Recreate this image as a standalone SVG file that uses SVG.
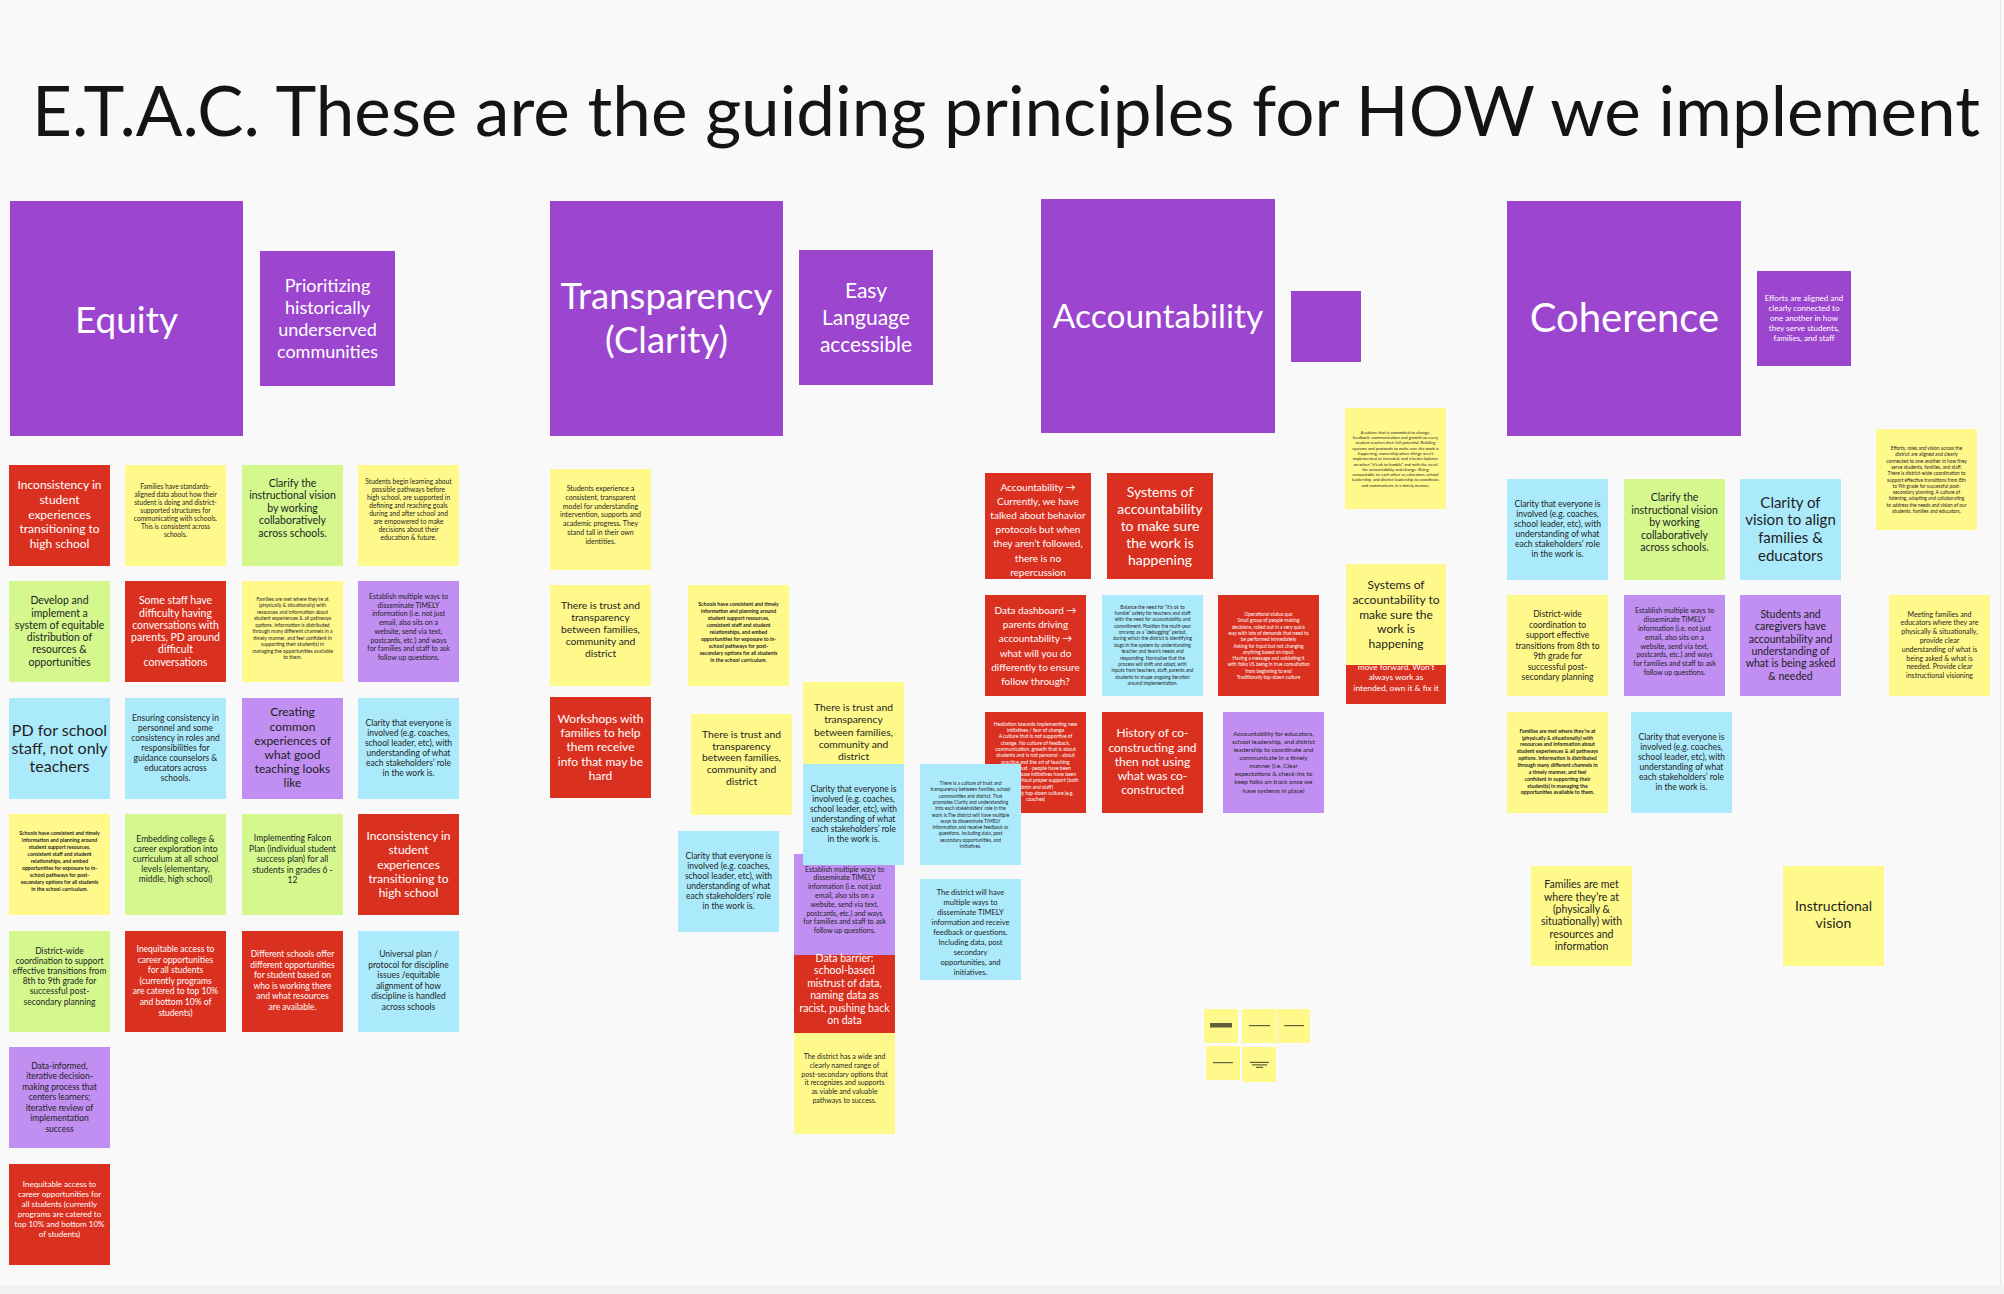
<svg xmlns="http://www.w3.org/2000/svg" width="2004" height="1294" viewBox="0 0 2004 1294">
<style>
.r{fill:#DA3020}.y{fill:#FFF98B}.g{fill:#D4F78E}.b{fill:#ABEAFB}.p{fill:#C18EF1}.h{fill:#9C45CF}
text{font-family:Lato,'Liberation Sans',sans-serif;text-anchor:middle;fill:#1E1E1E}
text.w{fill:#FFFFFF}
.s42{font-size:4.2px}.s48{font-size:4.8px}.s5{font-size:5px}.s52{font-size:5.2px}.s64{font-size:6.4px}.s66{font-size:6.6px}.s7{font-size:7px}.s75{font-size:7.5px}.s8{font-size:8px}.s83{font-size:8.3px}.s85{font-size:8.5px}.s10{font-size:10px}.s103{font-size:10.3px}.s105{font-size:10.5px}.s12{font-size:12px}.s14{font-size:14px}.s15{font-size:15px}.s16{font-size:16px}
.blur{fill:#3a3a2a;opacity:0.8}
</style>
<rect x="0" y="0" width="2004" height="1294" fill="#F9F9F9"/>
<rect x="0" y="1285" width="2004" height="9" fill="#F1F1F1"/>
<line x1="2000.5" y1="0" x2="2000.5" y2="1285" stroke="#E6E6E6" stroke-width="1"/>
<g id="title"><text x="1006" y="136" style="font-size:69.2px;fill:#141414">E.T.A.C. These are the guiding principles for HOW we implement</text></g>

<!-- EQUITY -->
<g id="equity-header"><rect class="h" x="10" y="201" width="233" height="235"/><text class="w" x="126.5" y="333" style="font-size:37px">Equity</text></g>
<g id="equity-sub"><rect class="h" x="260" y="251" width="135" height="135"/><text class="w" x="327.5" y="291.5" style="font-size:18px"><tspan x="327.5">Prioritizing</tspan><tspan x="327.5" dy="22.3">historically</tspan><tspan x="327.5" dy="22.3">underserved</tspan><tspan x="327.5" dy="22.3">communities</tspan></text></g>

<g id="eq-r1c1"><rect class="r" x="9" y="465" width="101" height="101"/><text class="w s12" x="59.5" y="489"><tspan x="59.5">Inconsistency in</tspan><tspan x="59.5" dy="14.8">student</tspan><tspan x="59.5" dy="14.8">experiences</tspan><tspan x="59.5" dy="14.8">transitioning to</tspan><tspan x="59.5" dy="14.8">high school</tspan></text></g>
<g id="eq-r1c2"><rect class="y" x="125" y="465" width="101" height="101"/><text class="s66" x="175.5" y="489"><tspan x="175.5">Families have standards-</tspan><tspan x="175.5" dy="8">aligned data about how their</tspan><tspan x="175.5" dy="8">student is doing and district-</tspan><tspan x="175.5" dy="8">supported structures for</tspan><tspan x="175.5" dy="8">communicating with schools.</tspan><tspan x="175.5" dy="8">This is consistent across</tspan><tspan x="175.5" dy="8">schools.</tspan></text></g>
<g id="eq-r1c3"><rect class="g" x="242" y="465" width="101" height="101"/><text class="s105" x="292.5" y="486.8"><tspan x="292.5">Clarify the</tspan><tspan x="292.5" dy="12.5">instructional vision</tspan><tspan x="292.5" dy="12.5">by working</tspan><tspan x="292.5" dy="12.5">collaboratively</tspan><tspan x="292.5" dy="12.5">across schools.</tspan></text></g>
<g id="eq-r1c4"><rect class="y" x="358" y="465" width="101" height="101"/><text class="s66" x="408.5" y="484"><tspan x="408.5">Students begin learning about</tspan><tspan x="408.5" dy="8">possible pathways before</tspan><tspan x="408.5" dy="8">high school, are supported in</tspan><tspan x="408.5" dy="8">defining and reaching goals</tspan><tspan x="408.5" dy="8">during and after school and</tspan><tspan x="408.5" dy="8">are empowered to make</tspan><tspan x="408.5" dy="8">decisions about their</tspan><tspan x="408.5" dy="8">education &amp; future.</tspan></text></g>

<g id="eq-r2c1"><rect class="g" x="9" y="581" width="101" height="101"/><text class="s105" x="59.5" y="604.2"><tspan x="59.5">Develop and</tspan><tspan x="59.5" dy="12.3">implement a</tspan><tspan x="59.5" dy="12.3">system of equitable</tspan><tspan x="59.5" dy="12.3">distribution of</tspan><tspan x="59.5" dy="12.3">resources &amp;</tspan><tspan x="59.5" dy="12.3">opportunities</tspan></text></g>
<g id="eq-r2c2"><rect class="r" x="125" y="581" width="101" height="101"/><text class="w s105" x="175.5" y="604.2"><tspan x="175.5">Some staff have</tspan><tspan x="175.5" dy="12.3">difficulty having</tspan><tspan x="175.5" dy="12.3">conversations with</tspan><tspan x="175.5" dy="12.3">parents, PD around</tspan><tspan x="175.5" dy="12.3">difficult</tspan><tspan x="175.5" dy="12.3">conversations</tspan></text></g>
<g id="eq-r2c3"><rect class="y" x="242" y="581" width="101" height="101"/><text class="s5" x="292.5" y="600.7"><tspan x="292.5">Families are met where they’re at</tspan><tspan x="292.5" dy="6.5">(physically &amp; situationally) with</tspan><tspan x="292.5" dy="6.5">resources and information about</tspan><tspan x="292.5" dy="6.5">student experiences &amp; all pathways</tspan><tspan x="292.5" dy="6.5">options. Information is distributed</tspan><tspan x="292.5" dy="6.5">through many different channels in a</tspan><tspan x="292.5" dy="6.5">timely manner, and  feel confident in</tspan><tspan x="292.5" dy="6.5">supporting their student(s) in</tspan><tspan x="292.5" dy="6.5">managing the opportunities available</tspan><tspan x="292.5" dy="6.5">to them.</tspan></text></g>
<g id="eq-r2c4"><rect class="p" x="358" y="581" width="101" height="101"/><text class="s7" x="408.5" y="599"><tspan x="408.5">Establish multiple ways to</tspan><tspan x="408.5" dy="8.7">disseminate TIMELY</tspan><tspan x="408.5" dy="8.7">information (i.e. not just</tspan><tspan x="408.5" dy="8.7">email, also sits on a</tspan><tspan x="408.5" dy="8.7">website, send via text,</tspan><tspan x="408.5" dy="8.7">postcards, etc.) and ways</tspan><tspan x="408.5" dy="8.7">for families and staff to ask</tspan><tspan x="408.5" dy="8.7">follow up questions.</tspan></text></g>

<g id="eq-r3c1"><rect class="b" x="9" y="698" width="101" height="101"/><text class="s16" x="59.5" y="735.5"><tspan x="59.5">PD for school</tspan><tspan x="59.5" dy="18">staff, not only</tspan><tspan x="59.5" dy="18">teachers</tspan></text></g>
<g id="eq-r3c2"><rect class="b" x="125" y="698" width="101" height="101"/><text class="s85" x="175.5" y="721.3"><tspan x="175.5">Ensuring consistency in</tspan><tspan x="175.5" dy="10">personnel and some</tspan><tspan x="175.5" dy="10">consistency in roles and</tspan><tspan x="175.5" dy="10">responsibilities for</tspan><tspan x="175.5" dy="10">guidance counselors &amp;</tspan><tspan x="175.5" dy="10">educators across</tspan><tspan x="175.5" dy="10">schools.</tspan></text></g>
<g id="eq-r3c3"><rect class="p" x="242" y="698" width="101" height="101"/><text class="s12" x="292.5" y="716.3"><tspan x="292.5">Creating</tspan><tspan x="292.5" dy="14.2">common</tspan><tspan x="292.5" dy="14.2">experiences of</tspan><tspan x="292.5" dy="14.2">what good</tspan><tspan x="292.5" dy="14.2">teaching looks</tspan><tspan x="292.5" dy="14.2">like</tspan></text></g>
<g id="eq-r3c4"><rect class="b" x="358" y="698" width="101" height="101"/><text class="s85" x="408.5" y="726.3"><tspan x="408.5">Clarity that everyone is</tspan><tspan x="408.5" dy="10">involved (e.g. coaches,</tspan><tspan x="408.5" dy="10">school leader, etc), with</tspan><tspan x="408.5" dy="10">understanding of what</tspan><tspan x="408.5" dy="10">each stakeholders’ role</tspan><tspan x="408.5" dy="10">in the work is.</tspan></text></g>

<g id="eq-r4c1"><rect class="y" x="9" y="814" width="101" height="101"/><text class="s52" x="59.5" y="835" font-weight="bold"><tspan x="59.5">Schools have consistent and timely</tspan><tspan x="59.5" dy="7">information and planning around</tspan><tspan x="59.5" dy="7">student support resources,</tspan><tspan x="59.5" dy="7">consistent staff and student</tspan><tspan x="59.5" dy="7">relationships, and embed</tspan><tspan x="59.5" dy="7">opportunities for exposure to in-</tspan><tspan x="59.5" dy="7">school pathways for post-</tspan><tspan x="59.5" dy="7">secondary options for all students</tspan><tspan x="59.5" dy="7">in the school curriculum.</tspan></text></g>
<g id="eq-r4c2"><rect class="g" x="125" y="814" width="101" height="101"/><text class="s85" x="175.5" y="842.3"><tspan x="175.5">Embedding college &amp;</tspan><tspan x="175.5" dy="10">career exploration into</tspan><tspan x="175.5" dy="10">curriculum at all school</tspan><tspan x="175.5" dy="10">levels (elementary,</tspan><tspan x="175.5" dy="10">middle, high school)</tspan></text></g>
<g id="eq-r4c3"><rect class="g" x="242" y="814" width="101" height="101"/><text class="s85" x="292.5" y="841"><tspan x="292.5">Implementing Falcon</tspan><tspan x="292.5" dy="10.5">Plan (individual student</tspan><tspan x="292.5" dy="10.5">success plan) for all</tspan><tspan x="292.5" dy="10.5">students in grades 6 -</tspan><tspan x="292.5" dy="10.5">12</tspan></text></g>
<g id="eq-r4c4"><rect class="r" x="358" y="814" width="101" height="101"/><text class="w s12" x="408.5" y="840"><tspan x="408.5">Inconsistency in</tspan><tspan x="408.5" dy="14.3">student</tspan><tspan x="408.5" dy="14.3">experiences</tspan><tspan x="408.5" dy="14.3">transitioning to</tspan><tspan x="408.5" dy="14.3">high school</tspan></text></g>

<g id="eq-r5c1"><rect class="g" x="9" y="931" width="101" height="101"/><text class="s85" x="59.5" y="954"><tspan x="59.5">District-wide</tspan><tspan x="59.5" dy="10.1">coordination to support</tspan><tspan x="59.5" dy="10.1">effective transitions from</tspan><tspan x="59.5" dy="10.1">8th to 9th grade for</tspan><tspan x="59.5" dy="10.1">successful post-</tspan><tspan x="59.5" dy="10.1">secondary planning</tspan></text></g>
<g id="eq-r5c2"><rect class="r" x="125" y="931" width="101" height="101"/><text class="w s85" x="175.5" y="952"><tspan x="175.5">Inequitable access to</tspan><tspan x="175.5" dy="10.6">career opportunities</tspan><tspan x="175.5" dy="10.6">for all students</tspan><tspan x="175.5" dy="10.6">(currently programs</tspan><tspan x="175.5" dy="10.6">are catered to top 10%</tspan><tspan x="175.5" dy="10.6">and bottom 10% of</tspan><tspan x="175.5" dy="10.6">students)</tspan></text></g>
<g id="eq-r5c3"><rect class="r" x="242" y="931" width="101" height="101"/><text class="w s85" x="292.5" y="957"><tspan x="292.5">Different schools offer</tspan><tspan x="292.5" dy="10.6">different opportunities</tspan><tspan x="292.5" dy="10.6">for student based on</tspan><tspan x="292.5" dy="10.6">who is working there</tspan><tspan x="292.5" dy="10.6">and what resources</tspan><tspan x="292.5" dy="10.6">are available.</tspan></text></g>
<g id="eq-r5c4"><rect class="b" x="358" y="931" width="101" height="101"/><text class="s85" x="408.5" y="957"><tspan x="408.5">Universal plan /</tspan><tspan x="408.5" dy="10.6">protocol for discipline</tspan><tspan x="408.5" dy="10.6">issues /equitable</tspan><tspan x="408.5" dy="10.6">alignment of how</tspan><tspan x="408.5" dy="10.6">discipline is handled</tspan><tspan x="408.5" dy="10.6">across schools</tspan></text></g>

<g id="eq-r6c1"><rect class="p" x="9" y="1047" width="101" height="101"/><text class="s85" x="59.5" y="1068.7"><tspan x="59.5">Data-informed,</tspan><tspan x="59.5" dy="10.5">iterative decision-</tspan><tspan x="59.5" dy="10.5">making process that</tspan><tspan x="59.5" dy="10.5">centers learners;</tspan><tspan x="59.5" dy="10.5">iterative review of</tspan><tspan x="59.5" dy="10.5">implementation</tspan><tspan x="59.5" dy="10.5">success</tspan></text></g>
<g id="eq-r7c1"><rect class="r" x="9" y="1164" width="101" height="101"/><text class="w s8" x="59.5" y="1187"><tspan x="59.5">Inequitable access to</tspan><tspan x="59.5" dy="10">career opportunities for</tspan><tspan x="59.5" dy="10">all students (currently</tspan><tspan x="59.5" dy="10">programs are catered to</tspan><tspan x="59.5" dy="10">top 10% and bottom 10%</tspan><tspan x="59.5" dy="10">of students)</tspan></text></g>

<!-- TRANSPARENCY -->
<g id="transparency-header"><rect class="h" x="550" y="201" width="233" height="235"/><text class="w" x="666.5" y="309" style="font-size:36.5px"><tspan x="666.5">Transparency</tspan><tspan x="666.5" dy="44">(Clarity)</tspan></text></g>
<g id="transparency-sub"><rect class="h" x="799" y="250" width="134" height="135"/><text class="w" x="866" y="298" style="font-size:21px"><tspan x="866">Easy</tspan><tspan x="866" dy="27">Language</tspan><tspan x="866" dy="27">accessible</tspan></text></g>

<g id="tr-students"><rect class="y" x="550" y="469" width="101" height="101"/><text class="s7" x="600.5" y="491"><tspan x="600.5">Students experience a</tspan><tspan x="600.5" dy="8.8">consistent, transparent</tspan><tspan x="600.5" dy="8.8">model for understanding</tspan><tspan x="600.5" dy="8.8">intervention, supports and</tspan><tspan x="600.5" dy="8.8">academic progress. They</tspan><tspan x="600.5" dy="8.8">stand tall in their own</tspan><tspan x="600.5" dy="8.8">identities.</tspan></text></g>
<g id="tr-trust1"><rect class="y" x="550" y="585" width="101" height="101"/><text class="s103" x="600.5" y="609.2"><tspan x="600.5">There is trust and</tspan><tspan x="600.5" dy="12">transparency</tspan><tspan x="600.5" dy="12">between families,</tspan><tspan x="600.5" dy="12">community and</tspan><tspan x="600.5" dy="12">district</tspan></text></g>
<g id="tr-schools"><rect class="y" x="688" y="585" width="101" height="101"/><text class="s52" x="738.5" y="605.7" font-weight="bold"><tspan x="738.5">Schools have consistent and timely</tspan><tspan x="738.5" dy="7">information and planning around</tspan><tspan x="738.5" dy="7">student support resources,</tspan><tspan x="738.5" dy="7">consistent staff and student</tspan><tspan x="738.5" dy="7">relationships, and embed</tspan><tspan x="738.5" dy="7">opportunities for exposure to in-</tspan><tspan x="738.5" dy="7">school pathways for post-</tspan><tspan x="738.5" dy="7">secondary options for all students</tspan><tspan x="738.5" dy="7">in the school curriculum.</tspan></text></g>
<g id="tr-workshops"><rect class="r" x="550" y="697" width="101" height="101"/><text class="w s12" x="600.5" y="723"><tspan x="600.5">Workshops with</tspan><tspan x="600.5" dy="14.2">families to help</tspan><tspan x="600.5" dy="14.2">them receive</tspan><tspan x="600.5" dy="14.2">info that may be</tspan><tspan x="600.5" dy="14.2">hard</tspan></text></g>
<g id="tr-trust2"><rect class="y" x="691" y="714" width="101" height="101"/><text class="s103" x="741.5" y="737.8"><tspan x="741.5">There is trust and</tspan><tspan x="741.5" dy="11.8">transparency</tspan><tspan x="741.5" dy="11.8">between families,</tspan><tspan x="741.5" dy="11.8">community and</tspan><tspan x="741.5" dy="11.8">district</tspan></text></g>
<g id="tr-trust3"><rect class="y" x="803" y="682" width="101" height="101"/><text class="s103" x="853.5" y="711.2"><tspan x="853.5">There is trust and</tspan><tspan x="853.5" dy="12.2">transparency</tspan><tspan x="853.5" dy="12.2">between families,</tspan><tspan x="853.5" dy="12.2">community and</tspan><tspan x="853.5" dy="12.2">district</tspan></text></g>
<g id="tr-clarity-left"><rect class="b" x="678" y="831" width="101" height="101"/><text class="s85" x="728.5" y="859.3"><tspan x="728.5">Clarity that everyone is</tspan><tspan x="728.5" dy="10">involved (e.g. coaches,</tspan><tspan x="728.5" dy="10">school leader, etc), with</tspan><tspan x="728.5" dy="10">understanding of what</tspan><tspan x="728.5" dy="10">each stakeholders’ role</tspan><tspan x="728.5" dy="10">in the work is.</tspan></text></g>
<g id="tr-establish"><rect class="p" x="794" y="854" width="101" height="101"/><text class="s7" x="844.5" y="871.6"><tspan x="844.5">Establish multiple ways to</tspan><tspan x="844.5" dy="8.8">disseminate TIMELY</tspan><tspan x="844.5" dy="8.8">information (i.e. not just</tspan><tspan x="844.5" dy="8.8">email, also sits on a</tspan><tspan x="844.5" dy="8.8">website, send via text,</tspan><tspan x="844.5" dy="8.8">postcards, etc.) and ways</tspan><tspan x="844.5" dy="8.8">for families and staff to ask</tspan><tspan x="844.5" dy="8.8">follow up questions.</tspan></text></g>
<g id="tr-clarity"><rect class="b" x="803" y="764" width="101" height="101"/><text class="s85" x="853.5" y="792.3"><tspan x="853.5">Clarity that everyone is</tspan><tspan x="853.5" dy="10">involved (e.g. coaches,</tspan><tspan x="853.5" dy="10">school leader, etc), with</tspan><tspan x="853.5" dy="10">understanding of what</tspan><tspan x="853.5" dy="10">each stakeholders’ role</tspan><tspan x="853.5" dy="10">in the work is.</tspan></text></g>
<g id="tr-databarrier"><rect class="r" x="794" y="955" width="101" height="101"/><text class="w s105" x="844.5" y="961.8"><tspan x="844.5">Data barrier:</tspan><tspan x="844.5" dy="12.5">school-based</tspan><tspan x="844.5" dy="12.5">mistrust of data,</tspan><tspan x="844.5" dy="12.5">naming data as</tspan><tspan x="844.5" dy="12.5">racist, pushing back</tspan><tspan x="844.5" dy="12.5">on data</tspan></text></g>
<g id="tr-district"><rect class="y" x="794" y="1033" width="101" height="101"/><text class="s7" x="844.5" y="1059"><tspan x="844.5">The district has a wide and</tspan><tspan x="844.5" dy="8.8">clearly named range of</tspan><tspan x="844.5" dy="8.8">post-secondary options that</tspan><tspan x="844.5" dy="8.8">it recognizes and supports</tspan><tspan x="844.5" dy="8.8">as viable and valuable</tspan><tspan x="844.5" dy="8.8">pathways to success.</tspan></text></g>

<!-- ACCOUNTABILITY -->
<g id="accountability-header"><rect class="h" x="1041" y="199" width="234" height="234"/><text class="w" x="1158" y="328" style="font-size:33.5px">Accountability</text></g>
<g id="accountability-sub"><rect class="h" x="1291" y="291" width="70" height="71"/></g>

<g id="ac-hesitation"><rect class="r" x="985" y="712" width="101" height="101"/><text class="w s5" x="1035.5" y="725.7"><tspan x="1035.5">Hesitation towards implementing new</tspan><tspan x="1035.5" dy="6.3">initiatives / fear of change</tspan><tspan x="1035.5" dy="6.3">A culture that is not supportive of</tspan><tspan x="1035.5" dy="6.3">change. No culture of feedback,</tspan><tspan x="1035.5" dy="6.3">communication, growth that is about</tspan><tspan x="1035.5" dy="6.3">students and is not personal - about</tspan><tspan x="1035.5" dy="6.3">practice and the art of teaching</tspan><tspan x="1035.5" dy="6.3">Lack of trust - people have been</tspan><tspan x="1035.5" dy="6.3">burned because initiatives have been</tspan><tspan x="1035.5" dy="6.3">rolled out without proper support (both</tspan><tspan x="1035.5" dy="6.3">admin and staff)</tspan><tspan x="1035.5" dy="6.3">Traditionally top-down culture (e.g.</tspan><tspan x="1035.5" dy="6.3">coaches)</tspan></text></g>
<g id="tr-culture"><rect class="b" x="920" y="764" width="101" height="101"/><text class="s48" x="970.5" y="785"><tspan x="970.5">There is a culture of trust and</tspan><tspan x="970.5" dy="6.3">transparency between families, school</tspan><tspan x="970.5" dy="6.3">communities and district. That</tspan><tspan x="970.5" dy="6.3">promotes Clarity and understanding</tspan><tspan x="970.5" dy="6.3">into each stakeholders’ role in the</tspan><tspan x="970.5" dy="6.3">work is.The district will have multiple</tspan><tspan x="970.5" dy="6.3">ways to disseminate TIMELY</tspan><tspan x="970.5" dy="6.3">information and receive feedback or</tspan><tspan x="970.5" dy="6.3">questions. Including data, post</tspan><tspan x="970.5" dy="6.3">secondary opportunities, and</tspan><tspan x="970.5" dy="6.3">initiatives.</tspan></text></g>
<g id="tr-districtwill"><rect class="b" x="920" y="879" width="101" height="101"/><text class="s75" x="970.5" y="894.6"><tspan x="970.5">The district will have</tspan><tspan x="970.5" dy="10">multiple ways to</tspan><tspan x="970.5" dy="10">disseminate TIMELY</tspan><tspan x="970.5" dy="10">information and receive</tspan><tspan x="970.5" dy="10">feedback or questions.</tspan><tspan x="970.5" dy="10">Including data, post</tspan><tspan x="970.5" dy="10">secondary</tspan><tspan x="970.5" dy="10">opportunities, and</tspan><tspan x="970.5" dy="10">initiatives.</tspan></text></g>

<g id="ac-currently"><rect class="r" x="985" y="473" width="106" height="106"/><text class="w s10" x="1038" y="491"><tspan x="1038">Accountability →</tspan><tspan x="1038" dy="14.1">Currently, we have</tspan><tspan x="1038" dy="14.1">talked about behavior</tspan><tspan x="1038" dy="14.1">protocols but when</tspan><tspan x="1038" dy="14.1">they aren’t followed,</tspan><tspan x="1038" dy="14.1">there is no</tspan><tspan x="1038" dy="14.1">repercussion</tspan></text></g>
<g id="ac-systems-red"><rect class="r" x="1107" y="473" width="106" height="106"/><text class="w s14" x="1160" y="497"><tspan x="1160">Systems of</tspan><tspan x="1160" dy="16.9">accountability</tspan><tspan x="1160" dy="16.9">to make sure</tspan><tspan x="1160" dy="16.9">the work is</tspan><tspan x="1160" dy="16.9">happening</tspan></text></g>
<g id="ac-dashboard"><rect class="r" x="985" y="595" width="101" height="101"/><text class="w s10" x="1035.5" y="614"><tspan x="1035.5">Data dashboard →</tspan><tspan x="1035.5" dy="14.2">parents driving</tspan><tspan x="1035.5" dy="14.2">accountability →</tspan><tspan x="1035.5" dy="14.2">what will you do</tspan><tspan x="1035.5" dy="14.2">differently to ensure</tspan><tspan x="1035.5" dy="14.2">follow through?</tspan></text></g>
<g id="ac-balance"><rect class="b" x="1102" y="595" width="101" height="101"/><text class="s48" x="1152.5" y="608.7"><tspan x="1152.5">Balance the need for “it’s ok to</tspan><tspan x="1152.5" dy="6.35">fumble” safety for teachers and staff</tspan><tspan x="1152.5" dy="6.35">with the need for accountability and</tspan><tspan x="1152.5" dy="6.35">commitment. Position the multi-year</tspan><tspan x="1152.5" dy="6.35">onramp as a “debugging” period,</tspan><tspan x="1152.5" dy="6.35">during which the district is identifying</tspan><tspan x="1152.5" dy="6.35">bugs in the system by understanding</tspan><tspan x="1152.5" dy="6.35">teacher and team’s needs and</tspan><tspan x="1152.5" dy="6.35">responding. Normalize that the</tspan><tspan x="1152.5" dy="6.35">process will shift and adapt, with</tspan><tspan x="1152.5" dy="6.35">inputs from teachers, staff, parents and</tspan><tspan x="1152.5" dy="6.35">students to shape ongoing iteration</tspan><tspan x="1152.5" dy="6.35">around implementation.</tspan></text></g>
<g id="ac-operational"><rect class="r" x="1218" y="595" width="101" height="101"/><text class="w s48" x="1268.5" y="616"><tspan x="1268.5">Operational status quo</tspan><tspan x="1268.5" dy="6.3">Small group of people making</tspan><tspan x="1268.5" dy="6.3">decisions, rolled out in a very quick</tspan><tspan x="1268.5" dy="6.3">way with lots of demands that need to</tspan><tspan x="1268.5" dy="6.3">be performed immediately</tspan><tspan x="1268.5" dy="6.3">Asking for input but not changing</tspan><tspan x="1268.5" dy="6.3">anything based on input.</tspan><tspan x="1268.5" dy="6.3">Having a message and validating it</tspan><tspan x="1268.5" dy="6.3">with folks VS being in true consultation</tspan><tspan x="1268.5" dy="6.3">from beginning to end</tspan><tspan x="1268.5" dy="6.3">Traditionally top-down culture</tspan></text></g>
<g id="ac-history"><rect class="r" x="1102" y="712" width="101" height="101"/><text class="w s12" x="1152.5" y="737.3"><tspan x="1152.5">History of co-</tspan><tspan x="1152.5" dy="14.2">constructing and</tspan><tspan x="1152.5" dy="14.2">then not using</tspan><tspan x="1152.5" dy="14.2">what was co-</tspan><tspan x="1152.5" dy="14.2">constructed</tspan></text></g>
<g id="ac-educators"><rect class="p" x="1223" y="712" width="101" height="101"/><text class="s64" x="1273.5" y="735.8"><tspan x="1273.5">Accountability for educators,</tspan><tspan x="1273.5" dy="8.1">school leadership, and district</tspan><tspan x="1273.5" dy="8.1">leadership to coordinate and</tspan><tspan x="1273.5" dy="8.1">communicate in a timely</tspan><tspan x="1273.5" dy="8.1">manner (i.e. Clear</tspan><tspan x="1273.5" dy="8.1">expectations &amp; check-ins to</tspan><tspan x="1273.5" dy="8.1">keep folks on track once we</tspan><tspan x="1273.5" dy="8.1">have systems in place)</tspan></text></g>
<g id="ac-culture"><rect class="y" x="1345" y="408" width="101" height="101"/><text class="s42" x="1395.5" y="433.7"><tspan x="1395.5">A culture that is committed to change,</tspan><tspan x="1395.5" dy="5.3">feedback, communication and growth so every</tspan><tspan x="1395.5" dy="5.3">student reaches their full potential. Building</tspan><tspan x="1395.5" dy="5.3">systems and protocols to make sure the work is</tspan><tspan x="1395.5" dy="5.3">happening, ownership when things aren’t</tspan><tspan x="1395.5" dy="5.3">implemented as intended, and a better balance</tspan><tspan x="1395.5" dy="5.3">on when “it’s ok to fumble” and with the need</tspan><tspan x="1395.5" dy="5.3">for accountability and change. Being</tspan><tspan x="1395.5" dy="5.3">accountable to each other as educators, school</tspan><tspan x="1395.5" dy="5.3">leadership, and district leadership to coordinate</tspan><tspan x="1395.5" dy="5.3">and communicate in a timely manner.</tspan></text></g>
<g id="ac-moveforward"><rect class="r" x="1346" y="603" width="100" height="101"/><text class="w s83" x="1396" y="669.5"><tspan x="1396">move forward. Won’t</tspan><tspan x="1396" dy="10.5">always work as</tspan><tspan x="1396" dy="10.5">intended, own it &amp; fix it</tspan></text></g>
<g id="ac-systems-yellow"><rect class="y" x="1346" y="564" width="100" height="101"/><text class="s12" x="1396" y="589.3"><tspan x="1396">Systems of</tspan><tspan x="1396" dy="14.7">accountability to</tspan><tspan x="1396" dy="14.7">make sure the</tspan><tspan x="1396" dy="14.7">work is</tspan><tspan x="1396" dy="14.7">happening</tspan></text></g>

<g id="tiny-1"><rect class="y" x="1204" y="1009" width="34" height="34"/><rect class="blur" x="1210" y="1023" width="22" height="4.5"/></g>
<g id="tiny-2"><rect class="y" x="1242" y="1009" width="34" height="34"/><rect class="blur" x="1249" y="1025" width="21" height="1.2"/></g>
<g id="tiny-3"><rect class="y" x="1277" y="1009" width="33" height="34"/><rect class="blur" x="1284" y="1025" width="20" height="1.2"/></g>
<g id="tiny-4"><rect class="y" x="1206" y="1046" width="34" height="34"/><rect class="blur" x="1213" y="1062" width="20" height="1.2"/></g>
<g id="tiny-5"><rect class="y" x="1242" y="1047" width="34" height="35"/><rect class="blur" x="1250" y="1061.8" width="19" height="1.2"/><rect class="blur" x="1252" y="1064.3" width="15" height="1.2"/><rect class="blur" x="1256" y="1066.8" width="7" height="1.2"/></g>

<!-- COHERENCE -->
<g id="coherence-header"><rect class="h" x="1507" y="201" width="234" height="235"/><text class="w" x="1624.5" y="332" style="font-size:40px">Coherence</text></g>
<g id="coherence-sub"><rect class="h" x="1757" y="271" width="94" height="95"/><text class="w s8" x="1804" y="300.8"><tspan x="1804">Efforts are aligned and</tspan><tspan x="1804" dy="10">clearly connected to</tspan><tspan x="1804" dy="10">one another in how</tspan><tspan x="1804" dy="10">they serve students,</tspan><tspan x="1804" dy="10">families, and staff</tspan></text></g>
<g id="co-efforts"><rect class="y" x="1876" y="429" width="101" height="101"/><text class="s48" x="1926.5" y="450"><tspan x="1926.5">Efforts, roles and vision across the</tspan><tspan x="1926.5" dy="6.3">district are aligned and clearly</tspan><tspan x="1926.5" dy="6.3">connected to one another in how they</tspan><tspan x="1926.5" dy="6.3">serve students, families, and staff.</tspan><tspan x="1926.5" dy="6.3">There is district-wide coordination to</tspan><tspan x="1926.5" dy="6.3">support effective transitions from 8th</tspan><tspan x="1926.5" dy="6.3">to 9th grade for successful post-</tspan><tspan x="1926.5" dy="6.3">secondary planning. A culture of</tspan><tspan x="1926.5" dy="6.3">listening, adapting and collaborating</tspan><tspan x="1926.5" dy="6.3">to address the needs and vision of our</tspan><tspan x="1926.5" dy="6.3">students, families and educators.</tspan></text></g>
<g id="co-r1c1"><rect class="b" x="1507" y="479" width="101" height="101"/><text class="s85" x="1557.5" y="507.3"><tspan x="1557.5">Clarity that everyone is</tspan><tspan x="1557.5" dy="10">involved (e.g. coaches,</tspan><tspan x="1557.5" dy="10">school leader, etc), with</tspan><tspan x="1557.5" dy="10">understanding of what</tspan><tspan x="1557.5" dy="10">each stakeholders’ role</tspan><tspan x="1557.5" dy="10">in the work is.</tspan></text></g>
<g id="co-r1c2"><rect class="g" x="1624" y="479" width="101" height="101"/><text class="s105" x="1674.5" y="501.2"><tspan x="1674.5">Clarify the</tspan><tspan x="1674.5" dy="12.5">instructional vision</tspan><tspan x="1674.5" dy="12.5">by working</tspan><tspan x="1674.5" dy="12.5">collaboratively</tspan><tspan x="1674.5" dy="12.5">across schools.</tspan></text></g>
<g id="co-r1c3"><rect class="b" x="1740" y="479" width="101" height="101"/><text class="s15" x="1790.5" y="507.5"><tspan x="1790.5">Clarity of</tspan><tspan x="1790.5" dy="17.7">vision to align</tspan><tspan x="1790.5" dy="17.7">families &amp;</tspan><tspan x="1790.5" dy="17.7">educators</tspan></text></g>
<g id="co-r2c1"><rect class="y" x="1507" y="595" width="101" height="101"/><text class="s85" x="1557.5" y="617"><tspan x="1557.5">District-wide</tspan><tspan x="1557.5" dy="10.5">coordination to</tspan><tspan x="1557.5" dy="10.5">support effective</tspan><tspan x="1557.5" dy="10.5">transitions from 8th to</tspan><tspan x="1557.5" dy="10.5">9th grade for</tspan><tspan x="1557.5" dy="10.5">successful post-</tspan><tspan x="1557.5" dy="10.5">secondary planning</tspan></text></g>
<g id="co-r2c2"><rect class="p" x="1624" y="595" width="101" height="101"/><text class="s7" x="1674.5" y="613.3"><tspan x="1674.5">Establish multiple ways to</tspan><tspan x="1674.5" dy="8.8">disseminate TIMELY</tspan><tspan x="1674.5" dy="8.8">information (i.e. not just</tspan><tspan x="1674.5" dy="8.8">email, also sits on a</tspan><tspan x="1674.5" dy="8.8">website, send via text,</tspan><tspan x="1674.5" dy="8.8">postcards, etc.) and ways</tspan><tspan x="1674.5" dy="8.8">for families and staff to ask</tspan><tspan x="1674.5" dy="8.8">follow up questions.</tspan></text></g>
<g id="co-r2c3"><rect class="p" x="1740" y="595" width="101" height="101"/><text class="s105" x="1790.5" y="617.8"><tspan x="1790.5">Students and</tspan><tspan x="1790.5" dy="12.4">caregivers have</tspan><tspan x="1790.5" dy="12.4">accountability and</tspan><tspan x="1790.5" dy="12.4">understanding of</tspan><tspan x="1790.5" dy="12.4">what is being asked</tspan><tspan x="1790.5" dy="12.4">&amp; needed</tspan></text></g>
<g id="co-meeting"><rect class="y" x="1889" y="595" width="101" height="101"/><text class="s7" x="1939.5" y="616.6"><tspan x="1939.5">Meeting families and</tspan><tspan x="1939.5" dy="8.8">educators where they are</tspan><tspan x="1939.5" dy="8.8">physically &amp; situationally,</tspan><tspan x="1939.5" dy="8.8">provide clear</tspan><tspan x="1939.5" dy="8.8">understanding of what is</tspan><tspan x="1939.5" dy="8.8">being asked &amp; what is</tspan><tspan x="1939.5" dy="8.8">needed. Provide clear</tspan><tspan x="1939.5" dy="8.8">instructional visioning</tspan></text></g>
<g id="co-r3c1"><rect class="y" x="1507" y="712" width="101" height="101"/><text class="s52" x="1557.5" y="732.7" font-weight="bold"><tspan x="1557.5">Families are met where they’re at</tspan><tspan x="1557.5" dy="6.85">(physically &amp; situationally) with</tspan><tspan x="1557.5" dy="6.85">resources and information about</tspan><tspan x="1557.5" dy="6.85">student experiences &amp; all pathways</tspan><tspan x="1557.5" dy="6.85">options. Information is distributed</tspan><tspan x="1557.5" dy="6.85">through many different channels in</tspan><tspan x="1557.5" dy="6.85">a timely manner, and  feel</tspan><tspan x="1557.5" dy="6.85">confident in supporting their</tspan><tspan x="1557.5" dy="6.85">student(s) in managing the</tspan><tspan x="1557.5" dy="6.85">opportunities available to them.</tspan></text></g>
<g id="co-r3c2"><rect class="b" x="1631" y="712" width="101" height="101"/><text class="s85" x="1681.5" y="740.3"><tspan x="1681.5">Clarity that everyone is</tspan><tspan x="1681.5" dy="10">involved (e.g. coaches,</tspan><tspan x="1681.5" dy="10">school leader, etc), with</tspan><tspan x="1681.5" dy="10">understanding of what</tspan><tspan x="1681.5" dy="10">each stakeholders’ role</tspan><tspan x="1681.5" dy="10">in the work is.</tspan></text></g>
<g id="co-families"><rect class="y" x="1531" y="866" width="101" height="100"/><text class="s105" x="1581.5" y="888.2"><tspan x="1581.5">Families are met</tspan><tspan x="1581.5" dy="12.4">where they’re at</tspan><tspan x="1581.5" dy="12.4">(physically &amp;</tspan><tspan x="1581.5" dy="12.4">situationally) with</tspan><tspan x="1581.5" dy="12.4">resources and</tspan><tspan x="1581.5" dy="12.4">information</tspan></text></g>
<g id="co-instructional"><rect class="y" x="1783" y="866" width="101" height="100"/><text class="s14" x="1833.5" y="911"><tspan x="1833.5">Instructional</tspan><tspan x="1833.5" dy="17">vision</tspan></text></g>
</svg>
